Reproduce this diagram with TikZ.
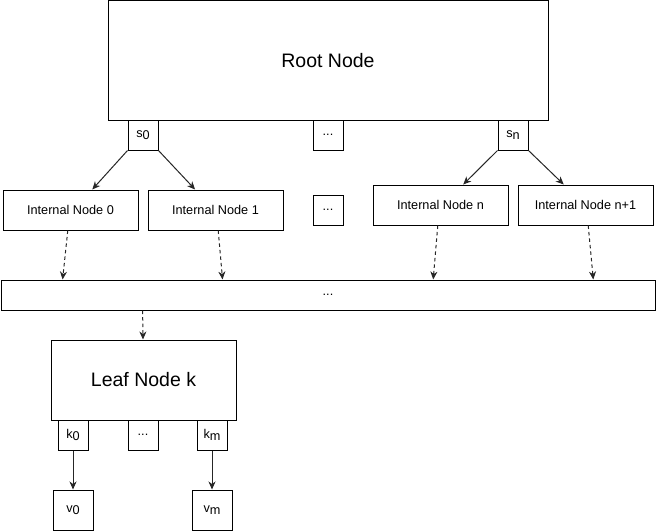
\documentclass[tikz,border=0pt]{standalone}
\usepackage{fontspec}
\setmainfont{Liberation Sans}
\usetikzlibrary{arrows.meta,calc}
\begin{document}
\begin{tikzpicture}[x=1pt,y=-1pt,
  box/.style={draw=black,line width=1pt,inner sep=0pt,fill=white,font=\fontsize{12.7}{15}\selectfont},
  big/.style={box,font=\fontsize{19.5}{23}\selectfont},
  arr/.style={-{Stealth[length=8pt,width=7pt,inset=2.5pt]},line width=1pt,draw=black!85},
  darr/.style={arr,dash pattern=on 3.5pt off 3pt}]
\useasboundingbox (0,0) rectangle (656,531);
\newcommand{\sbs}[2]{#1\raisebox{-2.5pt}{#2}}
% top level
\node[big,minimum width=440pt,minimum height=119.5pt] (root) at (328,60.25) {Root Node};
\node[box,minimum width=30pt,minimum height=30pt] (s0) at (143,135) {\sbs{s}{0}};
\node[box,minimum width=30pt,minimum height=30pt] (d1) at (328,135) {...};
\node[box,minimum width=30pt,minimum height=30pt] (sn) at (513,135) {\sbs{s}{n}};
% internal nodes
\node[box,minimum width=135pt,minimum height=40pt] (in0) at (70.5,210) {Internal Node 0};
\node[box,minimum width=135pt,minimum height=40pt] (in1) at (215.5,210) {Internal Node 1};
\node[box,minimum width=30pt,minimum height=30pt] (d2) at (328,210) {...};
\node[box,minimum width=135pt,minimum height=40pt] (inn) at (440.5,205) {Internal Node n};
\node[box,minimum width=135pt,minimum height=40pt] (inn1) at (585.5,205) {Internal Node n+1};
% bar
\node[box,minimum width=654pt,minimum height=30pt] (bar) at (328,295) {...};
% leaf
\node[big,minimum width=185pt,minimum height=80pt] (leaf) at (143.5,380) {Leaf Node k};
\node[box,minimum width=30pt,minimum height=30pt] (k0) at (73,435) {\sbs{k}{0}};
\node[box,minimum width=30pt,minimum height=30pt] (d3) at (143,435) {...};
\node[box,minimum width=30pt,minimum height=30pt] (km) at (212,435) {\sbs{k}{m}};
\node[box,minimum width=40pt,minimum height=40pt] (v0) at (73,510) {\sbs{v}{0}};
\node[box,minimum width=40pt,minimum height=40pt] (vm) at (212,510) {\sbs{v}{m}};
% arrows
\draw[arr] (s0.south west) -- ($(in0.north west)!0.66!(in0.north east)$);
\draw[arr] (s0.south east) -- ($(in1.north west)!0.35!(in1.north east)$);
\draw[arr] (sn.south west) -- ($(inn.north west)!0.667!(inn.north east)$);
\draw[arr] (sn.south east) -- ($(inn1.north west)!0.34!(inn1.north east)$);
\draw[darr] ($(in0.south west)!0.48!(in0.south east)$) -- ($(bar.north west)!0.0948!(bar.north east)$);
\draw[darr] ($(in1.south west)!0.52!(in1.south east)$) -- ($(bar.north west)!0.339!(bar.north east)$);
\draw[darr] ($(inn.south west)!0.48!(inn.south east)$) -- ($(bar.north west)!0.6606!(bar.north east)$);
\draw[darr] ($(inn1.south west)!0.52!(inn1.south east)$) -- ($(bar.north west)!0.905!(bar.north east)$);
\draw[darr] ($(bar.south west)!0.217!(bar.south east)$) -- (leaf.north -| d3);
\draw[arr] (k0.south) -- (v0.north);
\draw[arr] (km.south) -- (vm.north);
\end{tikzpicture}
\end{document}
